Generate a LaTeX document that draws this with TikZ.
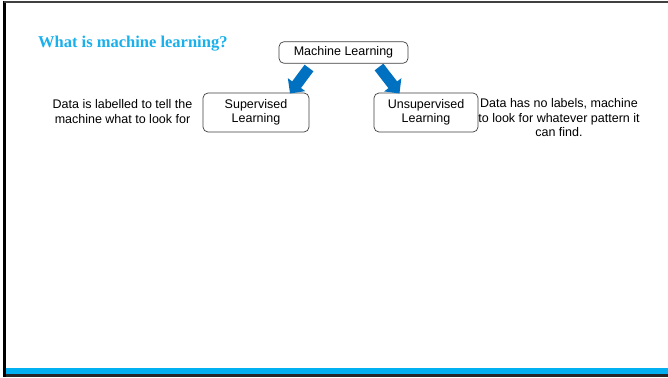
\documentclass[tikz,border=0pt]{standalone}
\usepackage{fontspec}
\setmainfont{Liberation Sans}
\newfontfamily\titlefont{Liberation Serif}
\usetikzlibrary{arrows.meta}
\definecolor{titleblue}{HTML}{1AB0EC}
\definecolor{barblue}{HTML}{00B0F0}
\definecolor{arrowblue}{HTML}{0070C0}
\definecolor{boxline}{HTML}{404040}
\tikzset{
  mlbox/.style={draw=boxline, line width=0.7pt, rounded corners=5pt, inner sep=0pt, align=center,
    font=\fontsize{12.5}{14.5}\selectfont},
  plaintext/.style={inner sep=0pt, align=center, font=\fontsize{12.5}{14.5}\selectfont},
  bigarrow/.style={draw=arrowblue, line width=11pt, -{Triangle[width=21pt,length=11pt]}, fill=arrowblue},
}
\begin{document}
\begin{tikzpicture}[x=1pt,y=-1pt]
\useasboundingbox (0,0) rectangle (668,377);
\fill[white] (0,0) rectangle (668,377);
% frame
\draw[draw=black, line width=2.7pt] (4.6,1.5) -- (4.6,377);
\draw[draw=black!75, line width=1.4pt] (3.5,2) -- (668,2);
\fill[barblue] (6,368.3) rectangle (668,374);
\fill[black!85] (6,374) rectangle (668,377);
% title
\node[anchor=base west, inner sep=0pt, text=titleblue, font=\titlefont\bfseries\fontsize{16.5}{19}\selectfont] (title) at (38,47.3) {What is machine learning?};
% boxes
\node[mlbox, minimum width=129pt, minimum height=21.6pt] (ml) at (343.5,52.5) {Machine Learning};
\node[mlbox, minimum width=106pt, minimum height=39pt] (sup) at (256,112.5) {Supervised\\Learning};
\node[mlbox, minimum width=104pt, minimum height=39pt] (unsup) at (426,112.5) {Unsupervised\\Learning};
% texts
\node[plaintext] (ltext) at (122.5,111.5) {Data is labelled to tell the\\machine what to look for};
\node[plaintext, anchor=north] (rtext) at (559,98.5) {Data has no labels, machine\\to look for whatever pattern it\\can find.};
% arrows
\coordinate (a1s) at (309,68);
\coordinate (a1e) at (290,93.5);
\coordinate (a2s) at (379,67);
\coordinate (a2e) at (399.5,93.5);
\draw[bigarrow] (a1s) -- (a1e);
\draw[bigarrow] (a2s) -- (a2e);
\end{tikzpicture}
\end{document}
